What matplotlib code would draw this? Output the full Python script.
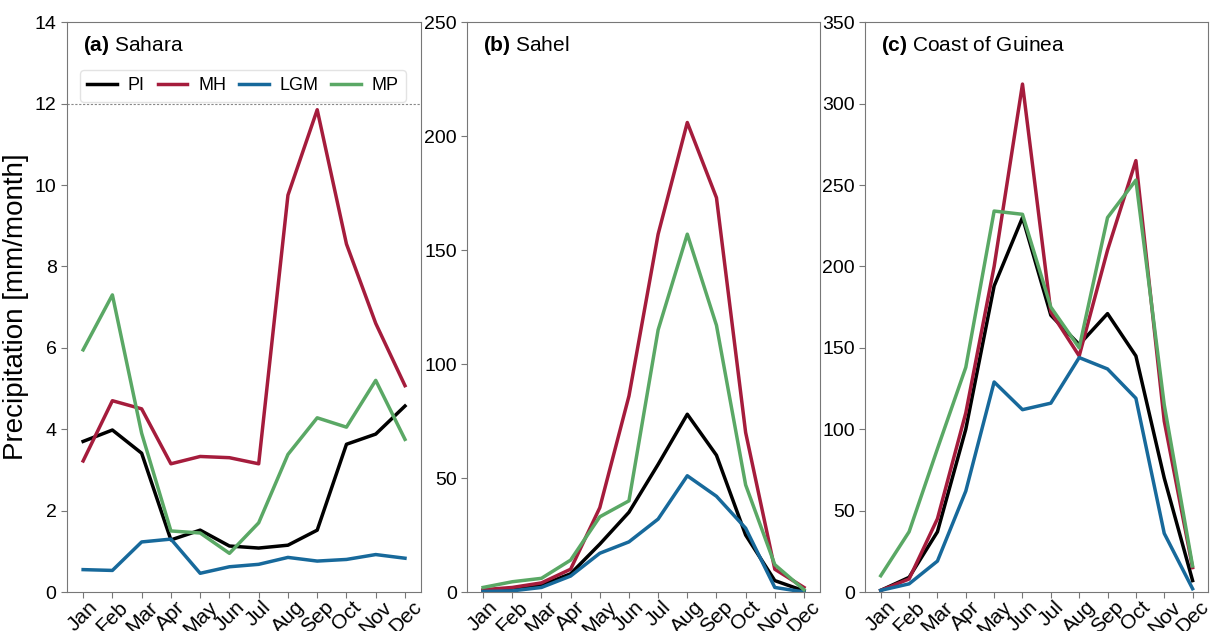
import matplotlib
matplotlib.use('Agg')
import matplotlib.pyplot as plt
import numpy as np

plt.rcParams['font.family'] = ['Liberation Sans', 'DejaVu Sans']
plt.rcParams['mathtext.fontset'] = 'custom'
plt.rcParams['mathtext.bf'] = 'Liberation Sans:bold'
plt.rcParams['mathtext.rm'] = 'Liberation Sans'

months = ['Jan', 'Feb', 'Mar', 'Apr', 'May', 'Jun', 'Jul', 'Aug', 'Sep', 'Oct', 'Nov', 'Dec']
experiments = ['PI', 'MH', 'LGM', 'MP']
colors = {'PI': 'black', 'MH': '#a51c3c', 'LGM': '#17699b', 'MP': '#5aa865'}

# (a) Sahara
sahara_pi = [3.7, 3.98, 3.41, 1.28, 1.52, 1.13, 1.08, 1.15, 1.52, 3.63, 3.88, 4.57]
sahara_mh = [3.22, 4.7, 4.5, 3.15, 3.33, 3.3, 3.15, 9.75, 11.85, 8.55, 6.6, 5.07]
sahara_lgm = [0.55, 0.53, 1.23, 1.3, 0.46, 0.62, 0.68, 0.85, 0.76, 0.8, 0.92, 0.83]
sahara_mp = [5.95, 7.3, 3.9, 1.5, 1.45, 0.95, 1.7, 3.38, 4.28, 4.05, 5.2, 3.75]

# (b) Sahel
sahel_pi = [0.5, 1.5, 3, 8, 21, 35, 56, 78, 60, 25, 5, 0.5]
sahel_mh = [1, 2, 4, 10, 37, 86, 157, 206, 173, 70, 10, 2]
sahel_lgm = [0.2, 0.5, 2, 7, 17, 22, 32, 51, 42, 28, 2, 0]
sahel_mp = [2, 4.5, 6, 14, 33, 40, 115, 157, 117, 47, 12, 1]

# (c) Coast of Guinea
guinea_pi = [1, 9, 37, 100, 188, 230, 170, 152, 171, 145, 70, 7]
guinea_mh = [1, 8, 45, 110, 200, 312, 172, 145, 210, 265, 105, 15]
guinea_lgm = [1, 5, 19, 62, 129, 112, 116, 144, 137, 119, 36, 2]
guinea_mp = [10, 37, 88, 138, 234, 232, 175, 150, 230, 253, 115, 16]

panels = [
    ('(a)', 'Sahara', [sahara_pi, sahara_mh, sahara_lgm, sahara_mp], 14, 2),
    ('(b)', 'Sahel', [sahel_pi, sahel_mh, sahel_lgm, sahel_mp], 250, 50),
    ('(c)', 'Coast of Guinea', [guinea_pi, guinea_mh, guinea_lgm, guinea_mp], 350, 50),
]

fig = plt.figure(figsize=(12.1, 6.31), dpi=100)
lefts = [0.0554, 0.386, 0.715]
widths = [0.2926, 0.2917, 0.2835]
x = np.arange(len(months))

for i, (tag, name, series, ymax, step) in enumerate(panels):
    ax = fig.add_axes([lefts[i], 0.0618, widths[i], 0.903])
    for exp, vals in zip(experiments, series):
        ax.plot(x, vals, color=colors[exp], lw=2.5, label=exp)
    ax.set_ylim(0, ymax)
    ax.set_yticks(np.arange(0, ymax + 1e-9, step))
    ax.set_xticks(x)
    ax.set_xticklabels(months, rotation=45, ha='center', fontsize=15)
    ax.tick_params(axis='y', labelsize=14, length=4, color='#777777')
    ax.tick_params(axis='x', length=4, color='#777777', pad=0)
    for sp in ax.spines.values():
        sp.set_color('#777777')
    ax.text(0.045, 0.98, r'$\mathbf{' + tag + '}$ ' + name, transform=ax.transAxes,
            fontsize=15, va='top', ha='left')
    if i == 0:
        ax.axhline(12, color='#888888', lw=0.8, ls=(0, (2, 1.5)))
        ax.set_ylabel('Precipitation [mm/month]', fontsize=20)
        ax.legend(ncol=4, loc='upper left', bbox_to_anchor=(0.037, 0.916), fontsize=13,
                  handlelength=1.65, columnspacing=0.7, handletextpad=0.6,
                  borderpad=0.4, borderaxespad=0,
                  frameon=True, edgecolor='#dddddd')

fig.savefig('out.png', dpi=100)
